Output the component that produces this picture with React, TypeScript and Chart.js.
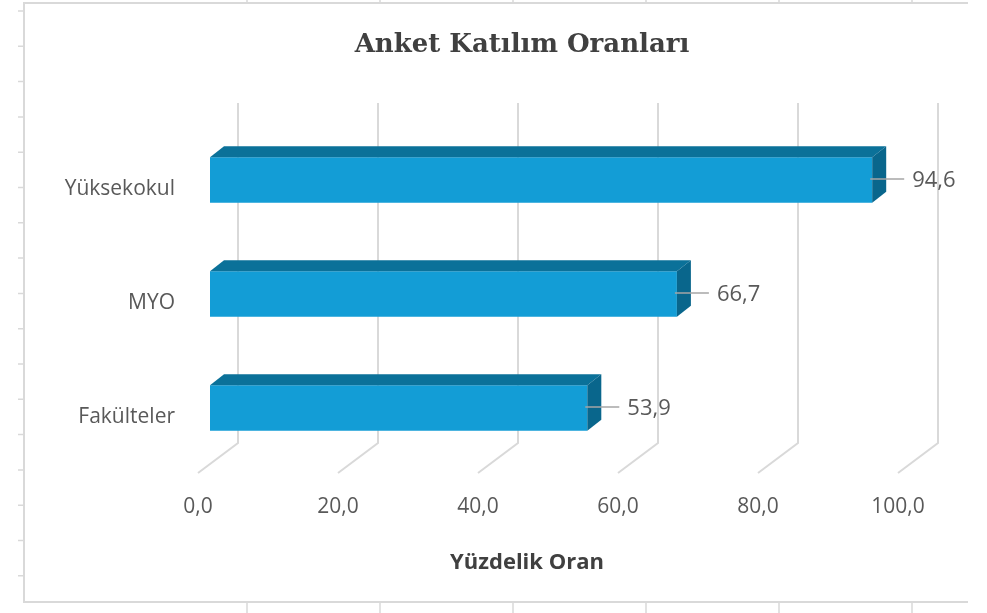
import React, { useEffect, useRef } from "react";
import { Chart, registerables } from "chart.js";

Chart.register(...registerables);

const categories = ["Yüksekokul", "MYO", "Fakülteler"];
const values = [94.6, 66.7, 53.9];
const xTicks = [0, 20, 40, 60, 80, 100];
const chartTitle = "Anket Katılım Oranları";
const axisTitle = "Yüzdelik Oran";

const FRONT = "#139dd6";
const TOP = "#0b7199";
const SIDE = "#09668c";
const GRID = "#d9d9d9";
const TEXT = "#595959";
const DX = 14;
const DY = 11;

const fmt = (v: number) => v.toFixed(1).replace(".", ",");

const threeD = {
  id: "threeD",
  beforeDraw(chart: any) {
    const ctx = chart.ctx;
    ctx.save();
    ctx.fillStyle = "#ffffff";
    ctx.fillRect(0, 0, chart.width, chart.height);
    ctx.strokeStyle = GRID;
    ctx.lineWidth = 2;
    ctx.beginPath();
    ctx.moveTo(968, 3);
    ctx.lineTo(24, 3);
    ctx.lineTo(24, 602);
    ctx.lineTo(968, 602);
    ctx.stroke();
    ctx.lineWidth = 1.5;
    ctx.beginPath();
    for (let y = 11; y < 600; y += 35.3) {
      ctx.moveTo(18, y);
      ctx.lineTo(24, y);
    }
    [247, 380, 513, 646, 779, 912].forEach((x) => {
      ctx.moveTo(x, 0);
      ctx.lineTo(x, 3);
      ctx.moveTo(x, 602);
      ctx.lineTo(x, 613);
    });
    ctx.stroke();
    // chart title
    ctx.fillStyle = "#404040";
    ctx.font = "bold 26px 'DejaVu Serif'";
    ctx.textAlign = "center";
    ctx.textBaseline = "middle";
    const ca = chart.chartArea;
    ctx.fillText(chartTitle, (ca.left + ca.right) / 2 - 38, 45);
    ctx.restore();
  },
  beforeDatasetsDraw(chart: any) {
    const { ctx, chartArea } = chart;
    const x = chart.scales.x;
    ctx.save();
    ctx.strokeStyle = GRID;
    ctx.lineWidth = 2;
    xTicks.forEach((v) => {
      const px = x.getPixelForValue(v);
      ctx.beginPath();
      ctx.moveTo(px + 28, chartArea.top - 20);
      ctx.lineTo(px + 28, chartArea.bottom - 22);
      ctx.lineTo(px - 12, chartArea.bottom + 8);
      ctx.stroke();
    });
    ctx.restore();
  },
  afterDatasetsDraw(chart: any) {
    const { ctx, chartArea } = chart;
    const meta = chart.getDatasetMeta(0);
    ctx.save();
    meta.data.forEach((bar: any, i: number) => {
      const { x: xr, y, base, height } = bar.getProps(["x", "y", "base", "height"], true);
      const top = y - height / 2;
      const bottom = y + height / 2;
      ctx.fillStyle = TOP;
      ctx.beginPath();
      ctx.moveTo(base, top);
      ctx.lineTo(base + DX, top - DY);
      ctx.lineTo(xr + DX, top - DY);
      ctx.lineTo(xr, top);
      ctx.closePath();
      ctx.fill();
      ctx.fillStyle = SIDE;
      ctx.beginPath();
      ctx.moveTo(xr, top);
      ctx.lineTo(xr + DX, top - DY);
      ctx.lineTo(xr + DX, bottom - DY);
      ctx.lineTo(xr, bottom);
      ctx.closePath();
      ctx.fill();
      ctx.strokeStyle = "#a6a6a6";
      ctx.lineWidth = 1.5;
      ctx.beginPath();
      ctx.moveTo(xr - 2, y - 1);
      ctx.lineTo(xr + 32, y - 1);
      ctx.stroke();
      ctx.fillStyle = TEXT;
      ctx.font = "22px 'Open Sans'";
      ctx.textAlign = "left";
      ctx.textBaseline = "middle";
      ctx.fillText(fmt(values[i]), xr + 40, y + 1);
    });
    ctx.fillStyle = "#404040";
    ctx.font = "bold 22px 'Open Sans'";
    ctx.textAlign = "center";
    ctx.textBaseline = "middle";
    ctx.fillText(axisTitle, (chartArea.left + chartArea.right) / 2 - 33, 563);
    ctx.restore();
  },
};

export default function App() {
  const ref = useRef<HTMLCanvasElement | null>(null);
  useEffect(() => {
    if (!ref.current) return;
    const chart = new Chart(ref.current, {
      type: "bar",
      data: {
        labels: categories,
        datasets: [
          {
            data: values,
            backgroundColor: FRONT,
            borderWidth: 0,
            barPercentage: 0.4,
            categoryPercentage: 1,
          },
        ],
      },
      options: {
        indexAxis: "y",
        responsive: false,
        animation: false,
        layout: { padding: { left: 0, right: 77, top: 123, bottom: 0 } },
        plugins: {
          legend: { display: false },
          tooltip: { enabled: false },
          title: { display: false },
        },
        scales: {
          x: {
            type: "linear",
            min: 0,
            max: 100,
            afterFit: (s: any) => {
              s.height = 148;
            },
            grid: { display: false, drawTicks: false },
            border: { display: false },
            ticks: {
              stepSize: 20,
              callback: (v: any) => fmt(Number(v)),
              color: TEXT,
              font: { family: "'Open Sans'", size: 21 },
              padding: 29,
              labelOffset: -12,
            },
          },
          y: {
            type: "category",
            afterFit: (s: any) => {
              s.width = 210;
            },
            grid: { display: false, drawTicks: false },
            border: { display: false },
            ticks: {
              color: TEXT,
              font: { family: "'Open Sans'", size: 21 },
              padding: 35,
              labelOffset: 9,
            },
          },
        },
      },
      plugins: [threeD],
    });
    return () => chart.destroy();
  }, []);
  return (
    <div style={{ position: "fixed", left: 0, top: 0, width: 987, height: 613, background: "#fff" }}>
      <canvas ref={ref} width={987} height={613} style={{ display: "block" }} />
    </div>
  );
}
